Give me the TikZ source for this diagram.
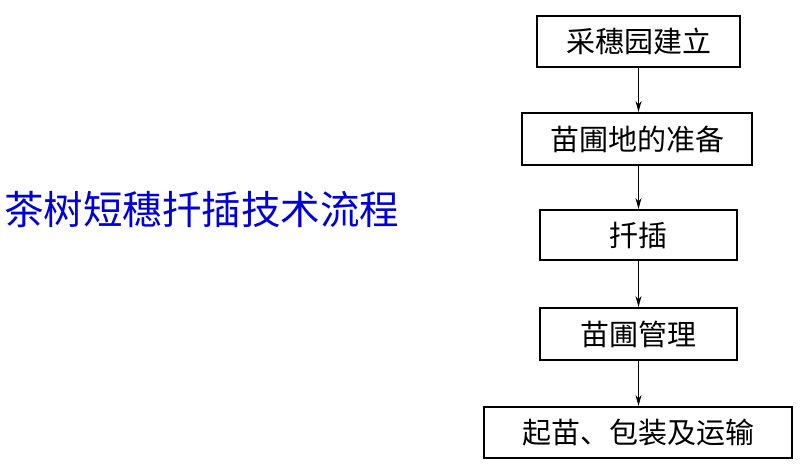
\documentclass[tikz,border=0pt]{standalone}
\usepackage{fontspec}
\newfontfamily\cjk{Noto Sans CJK SC}
\newfontfamily\cjkb{Noto Sans CJK SC Medium}
\usetikzlibrary{arrows.meta}
\begin{document}
\begin{tikzpicture}[x=1pt,y=-1pt,
  box/.style={draw,line width=2pt,inner sep=0pt,font=\cjk\fontsize{29}{29}\selectfont},
  arr/.style={-{Stealth[length=11pt,width=6pt]},line width=1.1pt}]
\useasboundingbox (0,0) rectangle (800,464);
\node[box,minimum width=203,minimum height=51] (a) at (638.5,41.5) {采穗园建立};
\node[box,minimum width=230,minimum height=52] (b) at (637,139) {苗圃地的准备};
\node[box,minimum width=197,minimum height=50] (c) at (638.5,235) {扦插};
\node[box,minimum width=197,minimum height=52] (d) at (638.5,334) {苗圃管理};
\node[box,minimum width=308,minimum height=51] (e) at (638,432.5) {起苗、包装及运输};
\draw[arr] (a) -- (a|-b.north);
\draw[arr] (b.south-|a) -- (a|-c.north);
\draw[arr] (c) -- (c|-d.north);
\draw[arr] (d) -- (d|-e.north);
\node[font=\cjk\fontsize{39.5}{40}\selectfont,text=blue!85!black,anchor=west,inner sep=0pt] (t) at (4,210) {茶树短穗扦插技术流程};
\end{tikzpicture}
\end{document}
